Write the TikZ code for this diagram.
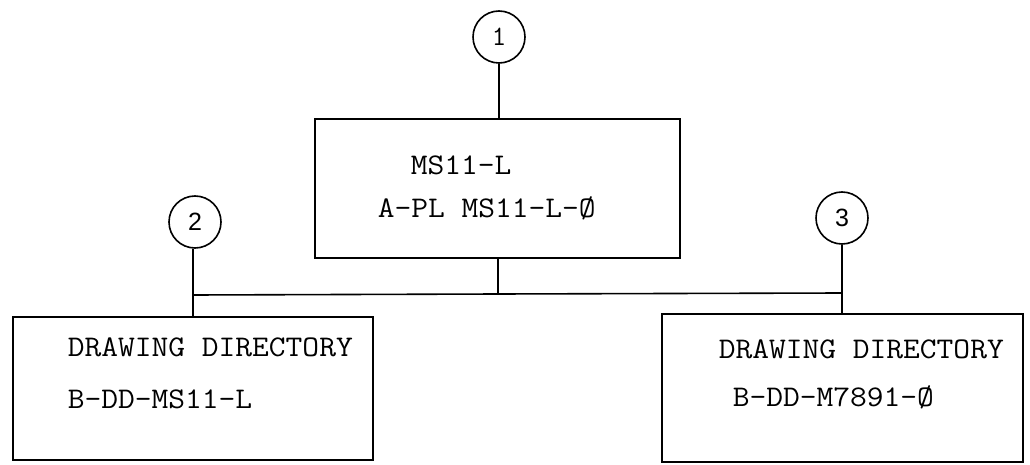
\documentclass[tikz,border=0pt]{standalone}
\usepackage{fontspec}
\usepackage{graphicx}
\newfontfamily\digitfont{Liberation Sans}
\newcommand{\tw}[1]{\scalebox{1.085}[1]{#1}}
\begin{document}
\begin{tikzpicture}[x=1pt,y=-1pt,
  line width=1.6pt,
  box/.style={draw, line width=1.6pt, inner sep=0pt},
  tag/.style={draw, circle, line width=1.6pt, minimum size=52pt, inner sep=0pt, font=\digitfont\fontsize{25}{25}\selectfont},
  label/.style={anchor=west, inner sep=0pt, font=\ttfamily\fontsize{30}{30}\selectfont\addfontfeature{FakeBold=1.2}}]
\useasboundingbox (0,0) rectangle (1030,465);
% boxes
\node[box, minimum width=365pt, minimum height=139pt] (cbox) at (497.5,188.5) {};
\node[box, minimum width=360pt, minimum height=143pt] (lbox) at (193,388.5) {};
\node[box, minimum width=361pt, minimum height=148pt] (rbox) at (842.5,388) {};
% circles
\node[tag, font=\ttfamily\fontsize{28}{28}\selectfont] (c1) at (499,37) {1};
\node[tag] (c2) at (195,222) {2};
\node[tag] (c3) at (842,218) {3};
% texts
\node[label] (t1) at (410,165) {\tw{MS11-L}};
\node[label] (t2) at (377,208) {\tw{A-PL MS11-L-Ø}};
\node[label] (t3) at (67,347) {\tw{DRAWING DIRECTORY}};
\node[label] (t4) at (67,399) {\tw{B-DD-MS11-L}};
\node[label] (t5) at (718,349) {\tw{DRAWING DIRECTORY}};
\node[label] (t6) at (732,397) {\tw{B-DD-M7891-Ø}};
% junctions
\coordinate (jl) at (193,295);
\coordinate (jc) at (498,294);
\coordinate (jr) at (842,293);
% connectors
\draw (c1.south) -- (c1.south |- cbox.north);
\draw (cbox.south -| jc) -- (jc);
\draw (jl) -- (jc) -- (jr);
\draw (c2.south -| jl) -- (jl |- lbox.north);
\draw (c3.south) -- (c3.south |- rbox.north);
\end{tikzpicture}
\end{document}
